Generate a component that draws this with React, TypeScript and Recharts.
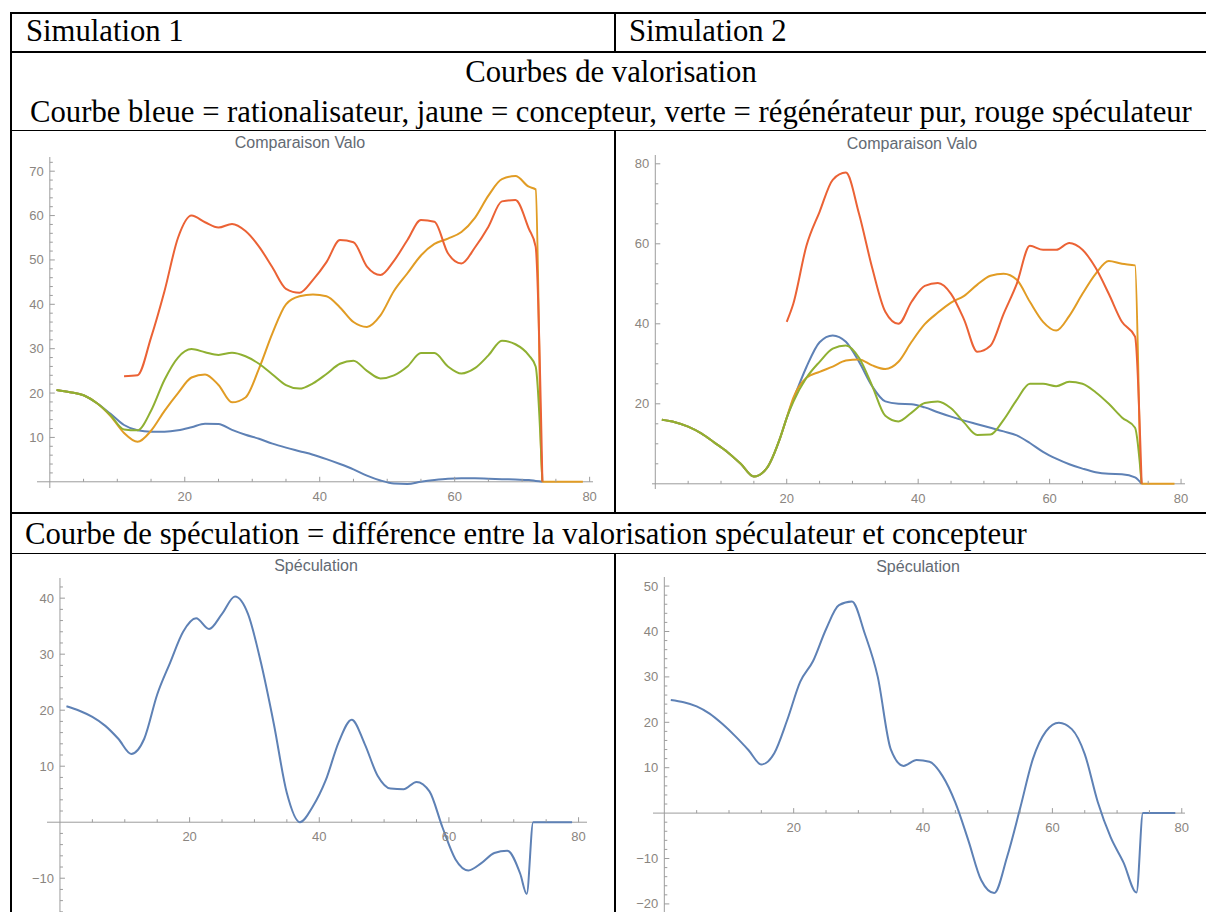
import { Line, LineChart, ReferenceDot, ReferenceLine, XAxis, YAxis } from "recharts";

const BLUE = "#5e81b5";
const ORANGE = "#e19c24";
const GREEN = "#8fb032";
const RED = "#eb6235";
const AXIS = "#9c9c9c";
const TICK_TEXT = "#8a8580";
const TITLE = "#636a73";
const SANS = "'Liberation Sans', Arial, sans-serif";
const SERIF = "'Liberation Serif', 'Times New Roman', serif";

// Simulation 1 - valorisation
const X_V1 = [1, 3, 5, 7, 9, 11, 13, 15, 17, 19, 21, 23, 25, 27, 29, 31, 33, 35, 37, 39, 41, 43, 45, 47, 49, 51, 53, 55, 57, 59, 61, 63, 65, 67, 69, 71, 72, 73, 79];
const BLUE_V1 = [20.7, 20.2, 19.5, 17.7, 15.3, 12.8, 11.6, 11.3, 11.3, 11.6, 12.3, 13.1, 13.0, 11.7, 10.6, 9.7, 8.6, 7.7, 6.9, 6.1, 5.1, 4.0, 2.8, 1.4, 0.3, -0.4, -0.5, 0.0, 0.4, 0.7, 0.8, 0.8, 0.7, 0.6, 0.5, 0.4, 0.2, 0, null];
const ORANGE_V1 = [20.7, 20.2, 19.5, 17.7, 14.8, 11.0, 9.0, 11.5, 16.0, 20.0, 23.5, 24.2, 21.8, 17.9, 19.0, 25.5, 33.5, 40.0, 41.8, 42.2, 41.8, 39.3, 36.0, 34.9, 37.5, 43.0, 47.0, 51.0, 53.6, 54.8, 56.3, 59.5, 64.5, 68.2, 68.9, 66.5, 65.9, 0, 0];
const GREEN_V1 = [20.7, 20.2, 19.5, 17.7, 15.0, 11.8, 11.6, 16.0, 23.0, 28.0, 29.9, 29.2, 28.6, 29.1, 28.3, 26.6, 24.2, 21.8, 21.0, 22.2, 24.3, 26.6, 27.3, 25.0, 23.3, 24.0, 26.0, 29.0, 29.0, 26.0, 24.4, 25.6, 28.5, 31.8, 31.0, 28.5, 26.0, 0, null];
const RED_V1 = [null, null, null, null, null, 23.8, 24.0, 32.5, 43.0, 55.0, 60.0, 58.5, 57.3, 58.1, 56.5, 53.0, 48.3, 43.5, 42.6, 45.5, 49.5, 54.5, 54.0, 48.5, 46.6, 49.8, 54.5, 59.0, 58.6, 51.5, 49.2, 52.8, 57.5, 63.2, 63.5, 57.0, 53.0, 0, null];

// Simulation 2 - valorisation
const X_V2 = [1, 3, 5, 7, 9, 11, 13, 15, 17, 19, 20, 21, 23, 25, 27, 29, 31, 33, 35, 37, 39, 41, 43, 45, 47, 49, 51, 53, 55, 57, 59, 61, 63, 65, 67, 69, 71, 73, 74, 79];
const BLUE_V2 = [16.0, 15.4, 14.3, 12.6, 10.3, 7.9, 5.0, 1.8, 4.0, 11.5, 16.5, 21.0, 29.2, 35.4, 37.1, 35.5, 30.5, 24.4, 20.6, 20.0, 19.9, 19.1, 17.9, 16.8, 15.8, 14.9, 14.0, 13.1, 12.1, 10.2, 8.0, 6.3, 4.9, 3.8, 2.9, 2.5, 2.4, 1.6, 0, null];
const ORANGE_V2 = [16.0, 15.4, 14.3, 12.6, 10.3, 7.9, 5.0, 1.8, 4.0, 11.5, 16.5, 21.5, 26.5, 28.0, 29.3, 30.8, 31.1, 29.6, 28.7, 30.5, 35.5, 39.9, 42.8, 45.3, 47.0, 49.8, 52.0, 52.5, 51.0, 45.5, 40.5, 38.3, 42.0, 47.5, 52.5, 55.7, 55.0, 54.6, 0, 0];
const GREEN_V2 = [16.0, 15.4, 14.3, 12.6, 10.3, 7.9, 5.0, 1.8, 4.0, 11.5, 16.5, 20.5, 26.5, 30.5, 33.8, 34.6, 31.5, 24.5, 17.0, 15.6, 17.8, 20.2, 20.6, 18.9, 15.3, 12.2, 12.3, 16.0, 21.0, 25.0, 25.0, 24.4, 25.5, 25.0, 22.9, 20.0, 16.6, 14.0, 0, null];
const RED_V2 = [null, null, null, null, null, null, null, null, null, null, 40.5, 45.0, 59.5, 68.0, 76.0, 77.8, 67.5, 54.0, 43.0, 40.0, 45.5, 49.5, 50.2, 47.5, 41.0, 33.0, 34.5, 42.5, 50.0, 59.5, 58.5, 58.5, 60.2, 58.5, 54.0, 47.5, 40.5, 36.8, 0, null];

// Spéculation
const X_S1 = [1, 3, 5, 7, 9, 11, 13, 15, 17, 19, 21, 23, 25, 27, 29, 31, 33, 35, 37, 39, 41, 43, 45, 47, 49, 51, 53, 55, 57, 59, 61, 63, 65, 67, 69, 71, 72, 73, 79];
const SPEC_S1 = [20.7, 19.9, 18.8, 17.2, 14.9, 12.2, 14.9, 22.8, 28.5, 34.0, 36.4, 34.5, 37.2, 40.3, 37.2, 28.5, 17.5, 5.2, 0.0, 2.8, 7.5, 14.3, 18.3, 14.0, 8.3, 6.0, 5.9, 7.2, 5.5, -0.9, -6.6, -8.6, -7.3, -5.5, -5.1, -9.2, -12.8, 0, 0];
const X_S2 = [1, 3, 5, 7, 9, 11, 13, 15, 17, 19, 21, 23, 25, 27, 29, 31, 33, 35, 37, 39, 41, 43, 45, 47, 49, 51, 53, 55, 57, 59, 61, 63, 65, 67, 69, 71, 73, 74, 79];
const SPEC_S2 = [24.9, 24.4, 23.5, 21.9, 19.6, 16.9, 13.9, 10.7, 13.2, 20.5, 28.9, 33.5, 40.5, 45.8, 46.6, 39.5, 30.0, 14.1, 10.4, 11.7, 11.3, 8.2, 2.3, -6.0, -14.8, -17.6, -9.6, 1.0, 12.0, 18.0, 19.9, 18.5, 13.0, 2.5, -5.3, -10.9, -17.5, 0, 0];

const X_MAJOR = [20, 40, 60, 80];
const X_MINOR = [5, 10, 15, 25, 30, 35, 45, 50, 55, 65, 70, 75];

type Series = { key: string; color: string; values: (number | null)[] };

type PlotProps = {
  left: number;
  top: number;
  width: number;
  height: number;
  xs: number[];
  series: Series[];
  xDomain: [number, number];
  yDomain: [number, number];
  yMajor: number[];
  yMinor: number[];
  title: string;
  titleX: number;
  titleY: number;
};

const M = { top: 10, right: 20, bottom: 30, left: 40 };

const fmt = (v: number) => (v < 0 ? `\u2212${-v}` : String(v));

const xTick = (len: number, label?: string) => (props: any) => (
  <g>
    <line x1={props.cx} y1={props.cy} x2={props.cx} y2={props.cy - len} stroke={AXIS} />
    {label && (
      <text x={props.cx} y={props.cy + 19} textAnchor="middle" fontSize={13} fontFamily={SANS} fill={TICK_TEXT}>
        {label}
      </text>
    )}
  </g>
);

const yTick = (len: number, label?: string) => (props: any) => (
  <g>
    <line x1={props.cx} y1={props.cy} x2={props.cx + len} y2={props.cy} stroke={AXIS} />
    {label && (
      <text x={props.cx - 6} y={props.cy + 4.5} textAnchor="end" fontSize={13} fontFamily={SANS} fill={TICK_TEXT}>
        {label}
      </text>
    )}
  </g>
);

function MmaPlot(p: PlotProps) {
  const rows = p.xs.map((x, i) => {
    const r: Record<string, number | null> = { x };
    p.series.forEach((s) => (r[s.key] = s.values[i]));
    return r;
  });
  return (
    <>
      <div
        style={{
          position: "absolute",
          left: p.titleX - 150,
          top: p.titleY - 9,
          width: 300,
          textAlign: "center",
          font: `16px ${SANS}`,
          lineHeight: "18px",
          color: TITLE,
        }}
      >
        {p.title}
      </div>
      <div style={{ position: "absolute", left: p.left - M.left, top: p.top - M.top }}>
        <LineChart
          width={p.width + M.left + M.right}
          height={p.height + M.top + M.bottom}
          data={rows}
          margin={M}
        >
          <XAxis type="number" dataKey="x" domain={p.xDomain} hide allowDataOverflow />
          <YAxis type="number" domain={p.yDomain} hide allowDataOverflow />
          <ReferenceLine y={0} stroke={AXIS} />
          <ReferenceLine x={0} stroke={AXIS} />
          {X_MINOR.map((t) => (
            <ReferenceDot key={`xm${t}`} x={t} y={0} r={0} shape={xTick(3)} />
          ))}
          {X_MAJOR.map((t) => (
            <ReferenceDot key={`xM${t}`} x={t} y={0} r={0} shape={xTick(5, String(t))} />
          ))}
          {p.yMinor.map((t) => (
            <ReferenceDot key={`ym${t}`} x={0} y={t} r={0} shape={yTick(3)} />
          ))}
          {p.yMajor.map((t) => (
            <ReferenceDot key={`yM${t}`} x={0} y={t} r={0} shape={yTick(5, fmt(t))} />
          ))}
          {p.series.map((s) => (
            <Line
              key={s.key}
              dataKey={s.key}
              stroke={s.color}
              strokeWidth={2}
              type="monotone"
              dot={false}
              activeDot={false}
              connectNulls={false}
              isAnimationActive={false}
            />
          ))}
        </LineChart>
      </div>
    </>
  );
}

const hLine = (top: number, h: number, left = 10) => (
  <div style={{ position: "absolute", left, top, width: 1206 - left, height: h, background: "#000" }} />
);
const vLine = (left: number, top: number, bottom: number, w = 2) => (
  <div style={{ position: "absolute", left, top, width: w, height: bottom - top, background: "#000" }} />
);

const cellText = {
  position: "absolute" as const,
  font: `30.7px ${SERIF}`,
  lineHeight: "30px",
  whiteSpace: "nowrap" as const,
  color: "#000",
};

const range = (a: number, b: number, step: number, skip: number[]) => {
  const out: number[] = [];
  for (let v = a; v <= b + 1e-9; v += step) if (!skip.includes(v)) out.push(v);
  return out;
};

export default function App() {
  return (
    <div style={{ position: "fixed", left: 0, top: 0, width: 1206, height: 912, overflow: "hidden", background: "#fff" }}>
      <div style={{ ...cellText, left: 26, top: 16 }}>Simulation 1</div>
      <div style={{ ...cellText, left: 629, top: 16 }}>Simulation 2</div>
      <div style={{ ...cellText, left: 0, width: 1222, top: 57, textAlign: "center" }}>Courbes de valorisation</div>
      <div style={{ ...cellText, left: 30, top: 97 }}>
        Courbe bleue = rationalisateur, jaune = concepteur, verte = régénérateur pur, rouge spéculateur
      </div>
      <div style={{ ...cellText, left: 25, top: 519 }}>
        Courbe de spéculation = différence entre la valorisation spéculateur et concepteur
      </div>

      <MmaPlot
        left={37}
        top={157}
        width={556}
        height={331}
        xs={X_V1}
        series={[
          { key: "blue", color: BLUE, values: BLUE_V1 },
          { key: "orange", color: ORANGE, values: ORANGE_V1 },
          { key: "green", color: GREEN, values: GREEN_V1 },
          { key: "red", color: RED, values: RED_V1 },
        ]}
        xDomain={[-1.9, 80.5]}
        yDomain={[-1.4, 73.2]}
        yMajor={[10, 20, 30, 40, 50, 60, 70]}
        yMinor={range(2, 72, 2, [10, 20, 30, 40, 50, 60, 70])}
        title="Comparaison Valo"
        titleX={300}
        titleY={143}
      />
      <MmaPlot
        left={652}
        top={155}
        width={533}
        height={334}
        xs={X_V2}
        series={[
          { key: "blue", color: BLUE, values: BLUE_V2 },
          { key: "orange", color: ORANGE, values: ORANGE_V2 },
          { key: "green", color: GREEN, values: GREEN_V2 },
          { key: "red", color: RED, values: RED_V2 },
        ]}
        xDomain={[-0.5, 80.6]}
        yDomain={[-1.3, 82.2]}
        yMajor={[20, 40, 60, 80]}
        yMinor={[5, 10, 15, 25, 30, 35, 45, 50, 55, 65, 70, 75]}
        title="Comparaison Valo"
        titleX={912}
        titleY={144}
      />
      <MmaPlot
        left={47}
        top={578}
        width={540}
        height={340}
        xs={X_S1}
        series={[{ key: "spec", color: BLUE, values: SPEC_S1 }]}
        xDomain={[-2, 81.3]}
        yDomain={[-17.1, 43.6]}
        yMajor={[-10, 10, 20, 30, 40]}
        yMinor={range(-16, 42, 2, [-10, 0, 10, 20, 30, 40])}
        title="Spéculation"
        titleX={316}
        titleY={566}
      />
      <MmaPlot
        left={653}
        top={577}
        width={532}
        height={336}
        xs={X_S2}
        series={[{ key: "spec", color: BLUE, values: SPEC_S2 }]}
        xDomain={[-1.75, 80.5]}
        yDomain={[-22, 52]}
        yMajor={[-20, -10, 10, 20, 30, 40, 50]}
        yMinor={range(-22, 50, 2, [-20, -10, 0, 10, 20, 30, 40, 50])}
        title="Spéculation"
        titleX={918}
        titleY={567}
      />

      {hLine(12, 2)}
      {vLine(10, 12, 912)}
      {hLine(51, 2)}
      {vLine(614, 12, 52)}
      {hLine(130, 1)}
      {vLine(614, 131, 513)}
      {hLine(512, 2)}
      {hLine(553, 1)}
      {vLine(614, 554, 912)}
    </div>
  );
}
